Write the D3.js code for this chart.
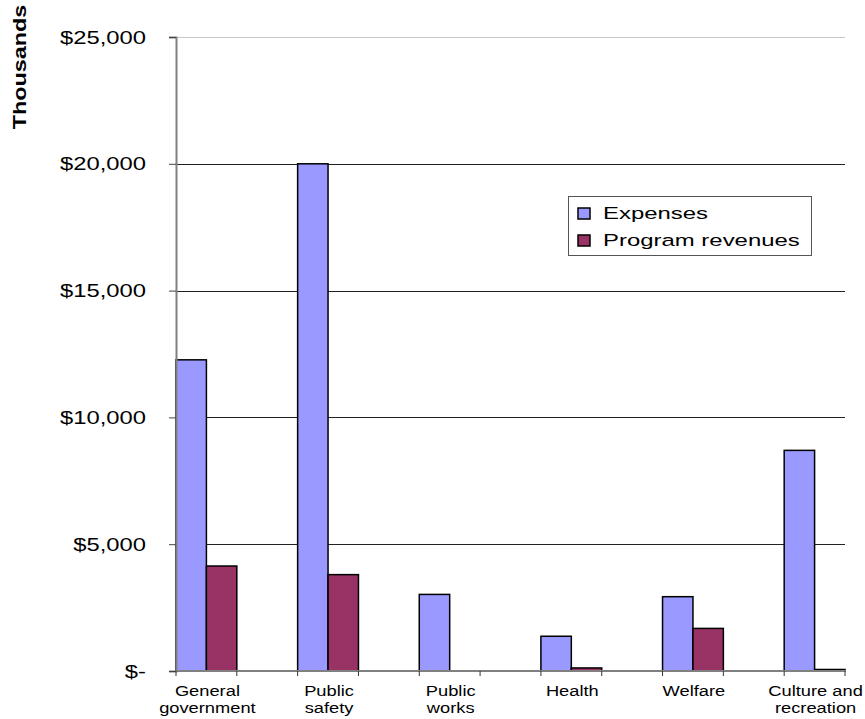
<!DOCTYPE html>
<html lang="en">
<head>
	<meta charset="UTF-8">
	<title>Expenses and program revenues</title>
	<script src="https://d3js.org/d3.v7.min.js"></script>
	<style>
		body {margin: 0; background: #fff;}
		text {font-family: Arial, "Liberation Sans", sans-serif; fill: #000;}
	</style>
</head>
<body>
	<div id="myDiv"></div>
<script>
	// data (thousands of dollars)
	const categories = ["General government", "Public safety", "Public works", "Health", "Welfare", "Culture and recreation"];
	const tickLabels = [["General", "government"], ["Public", "safety"], ["Public", "works"], ["Health"], ["Welfare"], ["Culture and", "recreation"]];
	const series = ["Expenses", "Program revenues"];
	const expenses = [12270, 20000, 3020, 1370, 2930, 8700];
	const revenues = [4140, 3800, 0, 120, 1680, 60];
	const yTicks = [0, 5000, 10000, 15000, 20000, 25000];
	const colors = ["#9999FF", "#993366"];

	let svg = d3.select("#myDiv").append("svg")
		.attr("width", 865)
		.attr("height", 719);

	let x = d3.scaleBand()
		.domain(categories)
		.range([176, 845])
		.paddingInner(0.5)
		.paddingOuter(0);

	let xs = d3.scaleBand()
		.domain(series)
		.range([0, x.bandwidth()]);

	let y = d3.scaleLinear()
		.domain([0, 25000])
		.range([671, 37]);

	//gridlines
	svg.append("g")
		.selectAll("line")
		.data(yTicks.filter(d => d > 0))
		.join("line")
			.attr("x1", 176)
			.attr("x2", 845)
			.attr("y1", d => Math.round(y(d)) + 0.5)
			.attr("y2", d => Math.round(y(d)) + 0.5)
			.attr("stroke", d => d == 25000 ? "#c8c8c8" : "#222")
			.attr("stroke-width", 1);

	//bars
	let rows = categories.map((c, i) => [
		{cat: c, s: series[0], v: expenses[i]},
		{cat: c, s: series[1], v: revenues[i]}
	]).flat().filter(d => d.v > 0);

	svg.append("g")
		.selectAll("rect")
		.data(rows)
		.join("rect")
			.attr("x", d => x(d.cat) + xs(d.s))
			.attr("y", d => y(d.v))
			.attr("width", xs.bandwidth())
			.attr("height", d => y(0) - y(d.v))
			.attr("fill", d => colors[series.indexOf(d.s)])
			.attr("stroke", "#000")
			.attr("stroke-width", 1.5);

	//y axis
	let yAxis = svg.append("g")
		.attr("transform", "translate(176,0)")
		.call(d3.axisLeft(y)
			.tickValues(yTicks)
			.tickSize(7)
			.tickFormat(d => d == 0 ? "$-" : "$" + d3.format(",")(d)));
	yAxis.select(".domain").attr("stroke", "#808080").attr("stroke-width", 2);
	yAxis.selectAll(".tick line").attr("stroke", "#444");
	yAxis.selectAll(".tick text")
		.attr("x", 0)
		.attr("dy", null)
		.attr("y", 6)
		.attr("transform", "translate(-30,0) scale(1.36,1)")
		.attr("font-size", "17.5px")
		.attr("font-family", null);

	//x axis
	svg.append("line")
		.attr("x1", 176).attr("x2", 846)
		.attr("y1", 671).attr("y2", 671)
		.attr("stroke", "#808080")
		.attr("stroke-width", 2);

	svg.append("g")
		.selectAll("line")
		.data(categories.flatMap(c => [x(c), x(c) + x.bandwidth()]))
		.join("line")
			.attr("x1", d => d).attr("x2", d => d)
			.attr("y1", 671).attr("y2", 676)
			.attr("stroke", "#333")
			.attr("stroke-width", 1);

	//x labels
	let lab = svg.append("g")
		.selectAll("text")
		.data(categories)
		.join("text")
			.attr("text-anchor", "middle")
			.attr("font-size", "15px")
			.attr("transform", d => "translate(" + (x(d) + x.bandwidth() / 2 + 1) + ",696) scale(1.22,1)");
	lab.selectAll("tspan")
		.data((d, i) => tickLabels[i])
		.join("tspan")
			.attr("x", 0)
			.attr("y", (d, i) => i * 17)
			.text(d => d);

	//axis title
	svg.append("text")
		.attr("transform", "translate(26,67) rotate(-90) scale(1.3,1)")
		.attr("text-anchor", "middle")
		.attr("font-size", "18px")
		.attr("font-weight", "bold")
		.text("Thousands");

	//legend
	let legend = svg.append("g");
	legend.append("rect")
		.attr("x", 568.5).attr("y", 196.5)
		.attr("width", 243).attr("height", 59)
		.attr("fill", "#fff")
		.attr("stroke", "#555")
		.attr("stroke-width", 1);

	let items = legend.selectAll("g.item")
		.data(series)
		.join("g")
			.attr("class", "item")
			.attr("transform", (d, i) => "translate(578," + (208 + i * 27) + ")");
	items.append("rect")
		.attr("width", 12).attr("height", 11)
		.attr("fill", (d, i) => colors[i])
		.attr("stroke", "#000")
		.attr("stroke-width", 1.5);
	items.append("text")
		.attr("transform", "translate(25,11) scale(1.45,1)")
		.attr("font-size", "16.5px")
		.text(d => d);
</script>
</body>
</html>
